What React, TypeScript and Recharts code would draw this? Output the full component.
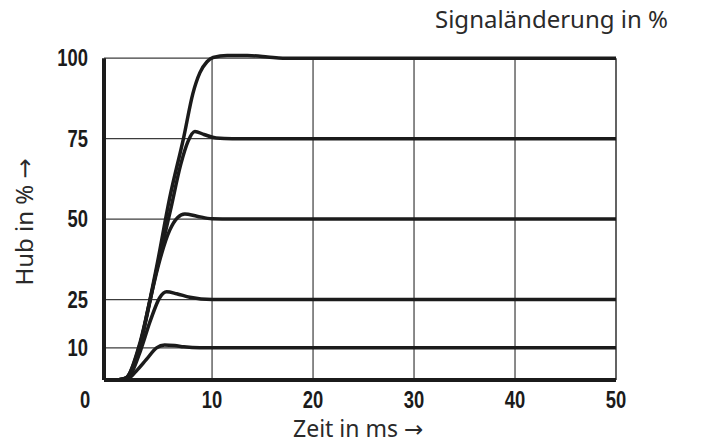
import { CartesianGrid, Label, Line, LineChart, ReferenceLine, XAxis, YAxis } from "recharts";

// time in ms, stroke in %
const t100 = [0.6, 1.5, 2.9, 4.5, 5.8, 7.2, 8.1, 8.8, 9.5, 10.1, 11.5, 13.5, 15.5, 17, 50];
const v100 = [0, 0.7, 12, 35, 56.5, 75.5, 89, 95.5, 98.9, 100.2, 100.8, 100.8, 100.4, 100, 100];

const t75 = [0.6, 1.5, 2.9, 4.5, 5.9, 6.9, 7.6, 8.3, 9.2, 10.4, 12, 50];
const v75 = [0, 0.7, 11.5, 34, 53, 67, 74, 77.2, 76.3, 75.2, 75, 75];

const t50 = [0.6, 1.5, 2.8, 3.8, 4.8, 5.8, 6.6, 7.3, 8.5, 10, 12, 50];
const v50 = [0, 0.6, 10, 24, 37, 46.5, 50.5, 51.6, 50.9, 50.1, 50, 50];

const t25 = [0.6, 1.6, 2.0, 2.9, 3.9, 4.8, 5.5, 6.5, 7.8, 10, 12, 50];
const v25 = [0, 0.5, 2, 9, 18.5, 25.5, 27.4, 26.8, 25.7, 25, 25, 25];

const t10 = [0.6, 1.8, 2.5, 3.5, 4.5, 5.3, 6.3, 7.2, 8.8, 10, 50];
const v10 = [0, 0.7, 2.8, 6.4, 10, 10.9, 10.7, 10.3, 10, 10, 10];

const xTicks = [0, 10, 20, 30, 40, 50];
const yTicks = [10, 25, 50, 75, 100];
const rightLabels = ["0 - 10", "0 - 25", "0 - 50", "0 - 75", "0 - 100"];

const series = [
  { key: "s100", t: t100, v: v100 },
  { key: "s75", t: t75, v: v75 },
  { key: "s50", t: t50, v: v50 },
  { key: "s25", t: t25, v: v25 },
  { key: "s10", t: t10, v: v10 },
];

const tickFont = "'Liberation Sans', Arial, sans-serif";
const titleFont = "'Noto Sans', 'Open Sans', sans-serif";
const arrowFont = "'DejaVu Sans', sans-serif";
const ink = "#1b1b1b";
const grid = "#3c3c3c";
const squeeze = 0.8; // the tick font is a condensed bold

function TickText({ x, y, anchor, dy, children }: any) {
  return (
    <text
      transform={`translate(${x} ${y}) scale(${squeeze} 1)`}
      dy={dy}
      textAnchor={anchor}
      fontFamily={tickFont}
      fontWeight="bold"
      fontSize={23}
      fill={ink}
    >
      {children}
    </text>
  );
}

function XTick({ x, y, payload }: any) {
  const dx = payload.value === 0 ? -26 : 0;
  return (
    <TickText x={x + dx} y={y} dy={26} anchor="middle">
      {payload.value}
    </TickText>
  );
}

function LeftTick({ x, y, payload }: any) {
  return (
    <TickText x={x} y={y} dy="0.36em" anchor="end">
      {payload.value}
    </TickText>
  );
}

function RightTick({ x, y, payload }: any) {
  const i = yTicks.indexOf(payload.value);
  return (
    <TickText x={x} y={y} dy="0.36em" anchor="start">
      {rightLabels[i]}
    </TickText>
  );
}

export default function App() {
  return (
    <div style={{ position: "absolute", left: 0, top: 0, background: "#fff" }}>
      <LineChart width={702} height={444} margin={{ top: 26, right: 0, bottom: 34, left: 0 }}>
        <CartesianGrid vertical={false} horizontalValues={yTicks} stroke={grid} strokeWidth={1.2} yAxisId="l" />
        <XAxis
          type="number"
          dataKey="t"
          domain={[-0.7, 50]}
          ticks={xTicks}
          tick={<XTick />}
          tickLine={false}
          tickSize={0}
          axisLine={{ stroke: ink, strokeWidth: 4 }}
          height={30}
          allowDuplicatedCategory={false}
        >
          <Label
            content={() => (
              <text x={293} y={437} fontFamily={titleFont} fontSize={23} fill="#2a2a2a">
                Zeit in ms <tspan fontFamily={arrowFont}>→</tspan>
              </text>
            )}
          />
        </XAxis>
        <YAxis
          yAxisId="l"
          type="number"
          domain={[0, 110]}
          ticks={yTicks}
          tick={<LeftTick />}
          tickLine={false}
          tickSize={0}
          tickMargin={16}
          axisLine={false}
          width={104}
        >
          <Label
            content={() => (
              <text
                x={33}
                y={222}
                transform="rotate(-90 33 222)"
                textAnchor="middle"
                fontFamily={titleFont}
                fontSize={24}
                fill="#2a2a2a"
              >
                Hub in % <tspan fontFamily={arrowFont}>→</tspan>
              </text>
            )}
          />
        </YAxis>
        <YAxis
          yAxisId="r"
          orientation="right"
          type="number"
          domain={[0, 110]}
          ticks={yTicks}
          tick={<RightTick />}
          tickLine={false}
          tickSize={0}
          tickMargin={8}
          axisLine={false}
          width={86}
        >
          <Label
            content={() => (
              <text x={668} y={28} textAnchor="end" fontFamily={titleFont} fontSize={24} fill="#2a2a2a">
                Signaländerung in %
              </text>
            )}
          />
        </YAxis>
        {xTicks.slice(1).map((x) => (
          <ReferenceLine
            key={x}
            yAxisId="l"
            segment={[
              { x, y: 0 },
              { x, y: 100 },
            ]}
            stroke={grid}
            strokeWidth={x === 50 ? 1.6 : 1.2}
          />
        ))}
        <ReferenceLine
          yAxisId="l"
          segment={[
            { x: -0.7, y: 0 },
            { x: -0.7, y: 100 },
          ]}
          stroke={ink}
          strokeWidth={4}
        />
        {series.map((s) => (
          <Line
            key={s.key}
            yAxisId="l"
            data={s.t.map((t, i) => ({ t, v: s.v[i] }))}
            dataKey="v"
            type="monotone"
            stroke={ink}
            strokeWidth={3.5}
            dot={false}
            activeDot={false}
            isAnimationActive={false}
          />
        ))}
      </LineChart>
    </div>
  );
}
